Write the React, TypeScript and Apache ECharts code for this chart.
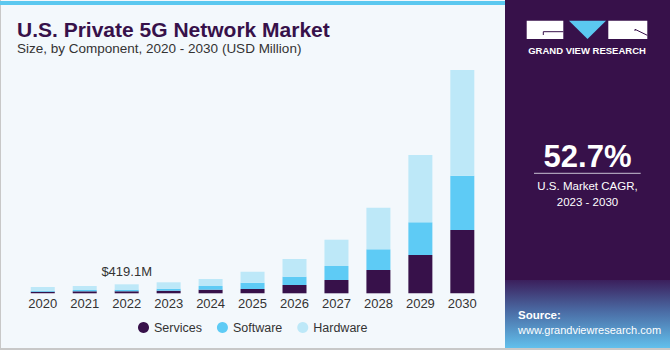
import React, { useEffect, useRef } from "react";
import * as echarts from "echarts";

const years = ["2020", "2021", "2022", "2023", "2024", "2025", "2026", "2027", "2028", "2029", "2030"];
const services = [75, 93, 95, 121, 168, 200, 387, 619, 1085, 1784, 2948];
const software = [47, 61, 74, 93, 172, 293, 387, 652, 964, 1523, 2529];
const hardware = [172, 186, 250.1, 298, 326, 512, 824, 1225, 1937, 3134, 4922];
const seriesNames = ["Services", "Software", "Hardware"];
const colors = ["#37114a", "#5ecbf5", "#bde8f8"];
const labelIndex = 2;

const FONT = "'Liberation Sans', Arial, sans-serif";

export default function App() {
  const ref = useRef<HTMLDivElement>(null);
  useEffect(() => {
    document.body.style.margin = "0";
    const chart = echarts.init(ref.current!, null, { renderer: "svg" });
    const totals = years.map((_, i) => services[i] + software[i] + hardware[i]);
    const hwData = hardware.map((v, i) =>
      i === labelIndex
        ? {
            value: v,
            label: {
              show: true,
              position: "top",
              distance: 6,
              formatter: "$" + totals[i].toFixed(1) + "M",
              color: "#333",
              fontSize: 13,
              fontFamily: FONT,
            },
          }
        : v
    );
    const datas = [services, software, hwData];
    chart.setOption({
      animation: false,
      backgroundColor: "#f3f8fc",
      textStyle: { fontFamily: FONT },
      grid: { left: 21.8, right: 670 - 483.3, top: 60, bottom: 56.7, containLabel: false },
      xAxis: {
        type: "category",
        data: years,
        axisLine: { show: false },
        axisTick: { show: false },
        axisLabel: { color: "#333", fontSize: 13, margin: 4, fontFamily: FONT },
      },
      yAxis: { type: "value", min: 0, max: 10865, show: false, splitLine: { show: false } },
      legend: {
        data: seriesNames,
        left: 133,
        top: 316,
        icon: "circle",
        itemWidth: 11,
        itemHeight: 11,
        itemGap: 15,
        textStyle: { color: "#333", fontSize: 12.5, fontFamily: FONT },
      },
      series: seriesNames.map((name, k) => ({
        name,
        type: "bar",
        stack: "total",
        barWidth: 24,
        data: datas[k],
        itemStyle: { color: colors[k] },
      })),
      graphic: [
        { type: "rect", left: 0, top: 0, shape: { width: 1, height: 350 }, style: { fill: "#c8c8c8" }, z: 10 },
        { type: "rect", left: 0, top: 348, shape: { width: 670, height: 2 }, style: { fill: "#c8c8c8" }, z: 10 },
        { type: "rect", left: 0, top: 1, shape: { width: 505, height: 4 }, style: { fill: "#5bc8f0" }, z: 10 },
        {
          type: "text",
          left: 17,
          top: 19,
          style: { text: "U.S. Private 5G Network Market", fill: "#37114a", font: "bold 21px " + FONT },
        },
        {
          type: "text",
          left: 17,
          top: 41.5,
          style: { text: "Size, by Component, 2020 - 2030 (USD Million)", fill: "#333", font: "13.5px " + FONT },
        },
        { type: "rect", left: 505, top: 0, shape: { width: 165, height: 350 }, style: { fill: "#37114a" }, z: 5 },
        {
          type: "rect",
          left: 505,
          top: 280,
          shape: { width: 165, height: 68 },
          style: {
            fill: new echarts.graphic.LinearGradient(0, 0, 0, 1, [
              { offset: 0, color: "#3b1f5c" },
              { offset: 0.45, color: "#4a6aa3" },
              { offset: 1, color: "#62c0ec" },
            ]),
          },
          z: 6,
        },
        { type: "rect", shape: { x: 526.7, y: 20.7, width: 36.6, height: 18.3 }, style: { fill: "#ffffff" }, z: 7 },
        { type: "line", shape: { x1: 543.3, y1: 31.7, x2: 563.3, y2: 31.7 }, style: { stroke: "#37114a", lineWidth: 1 }, z: 8 },
        { type: "line", shape: { x1: 543.3, y1: 31.7, x2: 543.3, y2: 35 }, style: { stroke: "#37114a", lineWidth: 1 }, z: 8 },
        {
          type: "polygon",
          shape: { points: [[569, 20.7], [606, 20.7], [587.5, 39]] },
          style: { fill: "#5bc8f0" },
          z: 7,
        },
        { type: "rect", shape: { x: 608.3, y: 20.7, width: 39, height: 18.3 }, style: { fill: "#ffffff" }, z: 7 },
        { type: "line", shape: { x1: 635, y1: 29.3, x2: 647.3, y2: 35.3 }, style: { stroke: "#37114a", lineWidth: 1 }, z: 8 },
        { type: "line", shape: { x1: 635, y1: 29.3, x2: 635, y2: 31 }, style: { stroke: "#37114a", lineWidth: 1 }, z: 8 },
        {
          type: "text",
          x: 587,
          y: 50.7,
          style: {
            text: "GRAND VIEW RESEARCH",
            fill: "#ffffff",
            font: "bold 9.5px " + FONT,
            align: "center",
            verticalAlign: "middle",
          },
          z: 8,
        },
        {
          type: "text",
          x: 587.5,
          y: 156.5,
          style: { text: "52.7%", fill: "#ffffff", font: "bold 31px " + FONT, align: "center", verticalAlign: "middle" },
          z: 8,
        },
        { type: "line", shape: { x1: 534, y1: 173.3, x2: 640.7, y2: 173.3 }, style: { stroke: "#c9c2d2", lineWidth: 1 }, z: 8 },
        {
          type: "text",
          x: 587.5,
          y: 186,
          style: { text: "U.S. Market CAGR,", fill: "#ffffff", font: "11.5px " + FONT, align: "center", verticalAlign: "middle" },
          z: 8,
        },
        {
          type: "text",
          x: 587.5,
          y: 201.5,
          style: { text: "2023 - 2030", fill: "#ffffff", font: "11.5px " + FONT, align: "center", verticalAlign: "middle" },
          z: 8,
        },
        {
          type: "text",
          x: 518,
          y: 315,
          style: { text: "Source:", fill: "#ffffff", font: "bold 11.5px " + FONT, verticalAlign: "middle" },
          z: 8,
        },
        {
          type: "text",
          x: 518,
          y: 330,
          style: { text: "www.grandviewresearch.com", fill: "#ffffff", font: "11px " + FONT, verticalAlign: "middle" },
          z: 8,
        },
      ],
    });
    return () => chart.dispose();
  }, []);
  return <div ref={ref} style={{ width: 670, height: 350 }} />;
}
